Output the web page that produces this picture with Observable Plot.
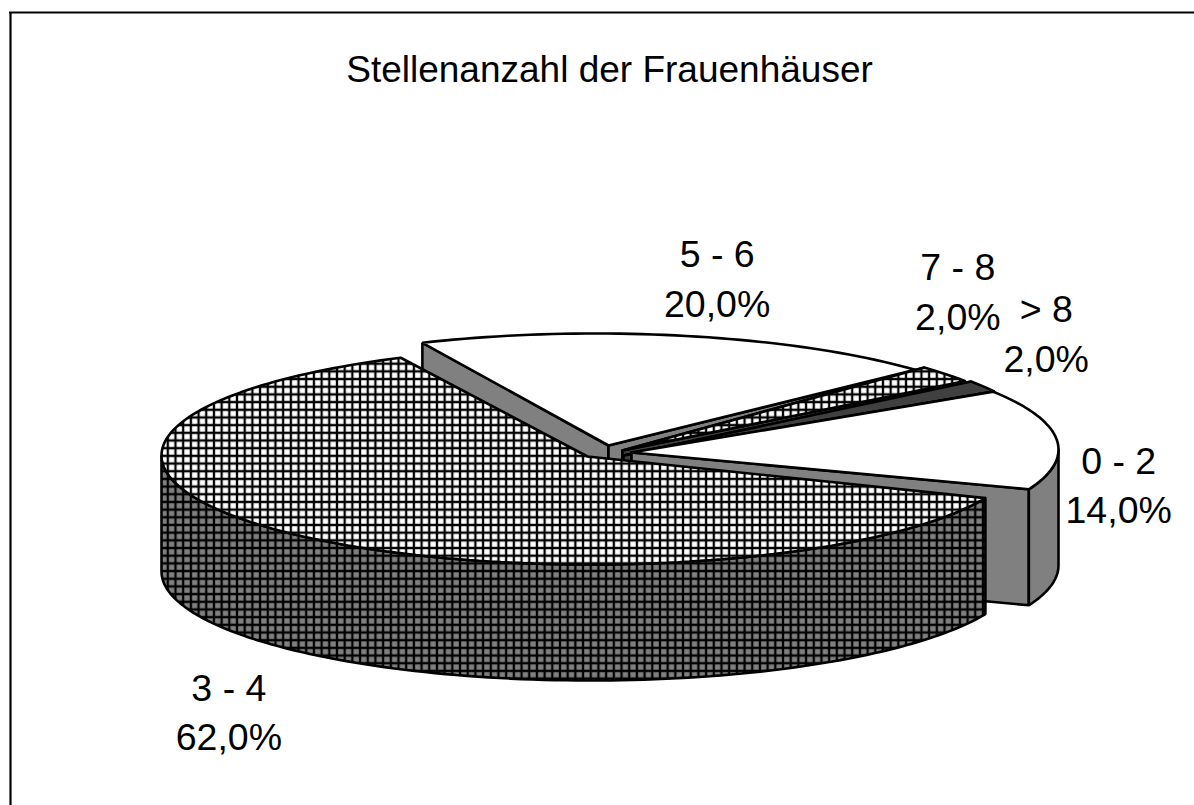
<!DOCTYPE html>
<html><head><meta charset="utf-8">
<style>html,body{margin:0;padding:0;background:#fff}svg{display:block}</style>
<script src="https://cdn.jsdelivr.net/npm/d3@7"></script>
<script src="https://cdn.jsdelivr.net/npm/@observablehq/plot@0.6"></script>
</head><body><div id="chart"></div>
<script>
const title = "Stellenanzahl der Frauenhäuser";
const categories = ["0 - 2", "3 - 4", "5 - 6", "7 - 8", "> 8"];
const shares = [14, 62, 20, 2, 2];

// Projection of the tilted pie (layout only)
const RX = 429, RY = 109, DEPTH = 116;
const layout = [
  {cx:629, cy:449, ax:631, ay:452, start:32,    spread:1.06,  top:"white",      wall:"#808080", nudge:[62,43]},
  {cx:590, cy:455, ax:587, ay:456, start:-23,   spread:0.989, top:"url(#gridW)", wall:"url(#gridG)", nudge:[-67,175]},
  {cx:595, cy:442, ax:608, ay:445, start:113.8, spread:1,     top:"white",      wall:"#808080", nudge:[31,-60]},
  {cx:605, cy:440, ax:622, ay:450, start:42,    spread:1.25,  top:"url(#gridW)", wall:"#404040", nudge:[12,-85]},
  {cx:615, cy:442, ax:623, ay:455, start:34,    spread:0.833, top:"#404040",    wall:"#404040", nudge:[63,-55]}
];
const rad = Math.PI / 180;
const onArc = (s, t, dz = 0) => ({x: s.cx + RX * Math.cos(t * rad), y: s.cy - RY * Math.sin(t * rad) + dz});
const sweep = (i) => shares[i] / 100 * 360 * layout[i].spread;
function arc(s, t0, t1, dz = 0) {
  const n = Math.max(2, Math.ceil(Math.abs(t1 - t0) / 1.5));
  return d3.range(n + 1).map(k => onArc(s, t0 + (t1 - t0) * k / n, dz));
}
const close = (p) => [...p, p[0]];
function extrude(a, b) { return close([a, b, {x: b.x, y: b.y + DEPTH}, {x: a.x, y: a.y + DEPTH}]); }

const faces = [];
function slice(i, outer) {
  const s = layout[i], t0 = s.start, t1 = s.start - sweep(i);
  const apex = {x: s.ax, y: s.ay};
  const p0 = onArc(s, t0), p1 = onArc(s, t1);
  faces.push({pts: extrude(apex, p0), fill: s.wall});
  faces.push({pts: extrude(apex, p1), fill: s.wall});
  if (outer) {
    const [a, b] = outer;
    faces.push({pts: close([...arc(s, a, b), ...arc(s, b, a, DEPTH)]), fill: s.wall});
  }
  faces.push({pts: close([apex, ...arc(s, t0, t1)]), fill: s.top});
}
// back to front
slice(2); slice(3); slice(4);
slice(0, [0, layout[0].start - sweep(0)]);
// the big slice hides its own cut faces, only its rim shows
(function () {
  const s = layout[1], t0 = s.start, t1 = s.start - sweep(1);
  faces.push({pts: close([...arc(s, t0, -180), ...arc(s, -180, t0, DEPTH)]), fill: s.wall});
  faces.push({pts: close([{x: s.ax, y: s.ay}, ...arc(s, t0, t1)]), fill: s.top});
})();

const fmt = (v) => v.toFixed(1).replace(".", ",") + "%";
const labels = categories.map((c, i) => {
  const s = layout[i], m = onArc(s, s.start - sweep(i) / 2);
  return {x: m.x + s.nudge[0], y: m.y + s.nudge[1], text: c + "\n" + fmt(shares[i])};
});

const W = 7.69, H = 7.68, X0 = 5.81, Y0 = 2.24;
function defs() {
  const d = d3.create("svg:defs");
  [["gridW", "#fff"], ["gridG", "#808080"]].forEach(([id, bg]) => {
    const p = d.append("pattern").attr("id", id).attr("patternUnits", "userSpaceOnUse")
      .attr("width", W).attr("height", H)
      .attr("patternTransform", `translate(${X0 - W / 2},${Y0 - H / 2})`);
    p.append("rect").attr("width", W).attr("height", H).attr("fill", bg);
    p.append("path").attr("d", `M${W / 2} 0V${H}M0 ${H / 2}H${W}`).attr("stroke", "#000").attr("stroke-width", 2.3).attr("fill", "none");
  });
  return d.node();
}

const plot = Plot.plot({
  width: 1194, height: 805, margin: 0,
  x: {domain: [0, 1194], range: [0, 1194], axis: null},
  y: {domain: [0, 805], range: [0, 805], axis: null},
  style: {background: "#fff", fontFamily: "'Liberation Sans', Arial, sans-serif"},
  marks: [
    defs,
    Plot.ruleX([10], {y1: 12, y2: 805, stroke: "#000", strokeWidth: 2.2}),
    Plot.ruleY([12], {x1: 9, x2: 1194, stroke: "#000", strokeWidth: 2.2}),
    ...faces.map(f => Plot.line(f.pts, {x: "x", y: "y", fill: f.fill, stroke: "#000", strokeWidth: 2.6, strokeLinejoin: "miter", curve: "linear"})),
    Plot.text([title], {x: () => 609, y: () => 70, text: d => d, fontSize: 37, fill: "#000"}),
    Plot.text(labels, {x: "x", y: "y", text: "text", fontSize: 37.5, lineHeight: 1.32, fill: "#000"})
  ]
});
document.getElementById("chart").append(plot);
</script></body></html>
